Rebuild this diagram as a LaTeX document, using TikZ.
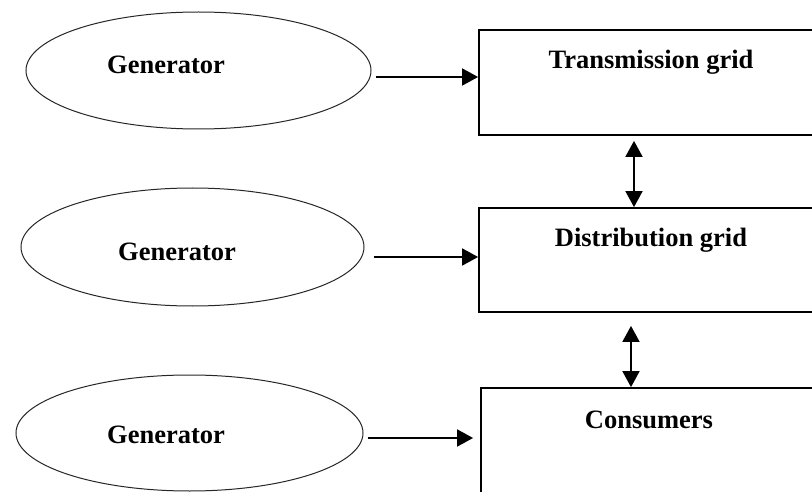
\documentclass[tikz,border=0pt]{standalone}
\usepackage{fontspec}
\setmainfont{Liberation Serif}
\usetikzlibrary{shapes.geometric,arrows.meta}
\begin{document}
\begin{tikzpicture}[x=1pt,y=-1pt,
  gen/.style={ellipse,draw=black!85,line width=1pt,inner sep=0pt},
  grid/.style={rectangle,draw=black,line width=1.8pt,inner sep=0pt},
  lbl/.style={anchor=base,inner sep=0pt,font=\fontsize{26.5}{30}\selectfont\bfseries},
  arr/.style={line width=1.8pt,-{Triangle[length=16pt,width=17pt]}},
  darr/.style={line width=1.8pt,{Triangle[length=16pt,width=17pt]}-{Triangle[length=16pt,width=17pt]}}]
\useasboundingbox (0,0) rectangle (812,492);
\clip (0,0) rectangle (812,492);

% generators
\node[gen,minimum width=345pt,minimum height=117pt] (g1) at (198.5,70.5) {};
\node[gen,minimum width=343pt,minimum height=118pt] (g2) at (192.5,247) {};
\node[gen,minimum width=347pt,minimum height=116pt] (g3) at (189.5,433) {};
\node[lbl] (g1t) at (166,74) {Generator};
\node[lbl] (g2t) at (177,260) {Generator};
\node[lbl] (g3t) at (166,443) {Generator};

% grid levels (boxes run on past the right edge)
\node[grid,minimum width=421pt,minimum height=105pt] (b1) at (689.5,82.5) {};
\node[grid,minimum width=421pt,minimum height=104pt] (b2) at (689.5,260) {};
\node[grid,minimum width=419pt,minimum height=110pt] (b3) at (690.5,443) {};
\node[lbl] (b1t) at (651,69) {Transmission grid};
\node[lbl] (b2t) at (651,247) {Distribution grid};
\node[lbl] (b3t) at (649,428) {Consumers};

% feed-in arrows
\coordinate (a1) at ([xshift=4pt,yshift=-6.5pt]g1.east);
\coordinate (a2) at ([xshift=9pt,yshift=-10pt]g2.east);
\coordinate (a3) at ([xshift=4pt,yshift=-5pt]g3.east);
\draw[arr] (a1) -- (a1 -| b1.west);
\draw[arr] (a2) -- (a2 -| b2.west);
\draw[arr] (a3) -- ([xshift=-7pt]a3 -| b3.west);

% exchange between levels
\coordinate (v1) at ([xshift=-55.5pt,yshift=-5pt]b1.south);
\coordinate (v2) at ([xshift=-58.5pt,yshift=-13pt]b2.south);
\draw[darr] (v1) -- (v1 |- b2.north);
\draw[darr] (v2) -- (v2 |- b3.north);
\end{tikzpicture}
\end{document}
